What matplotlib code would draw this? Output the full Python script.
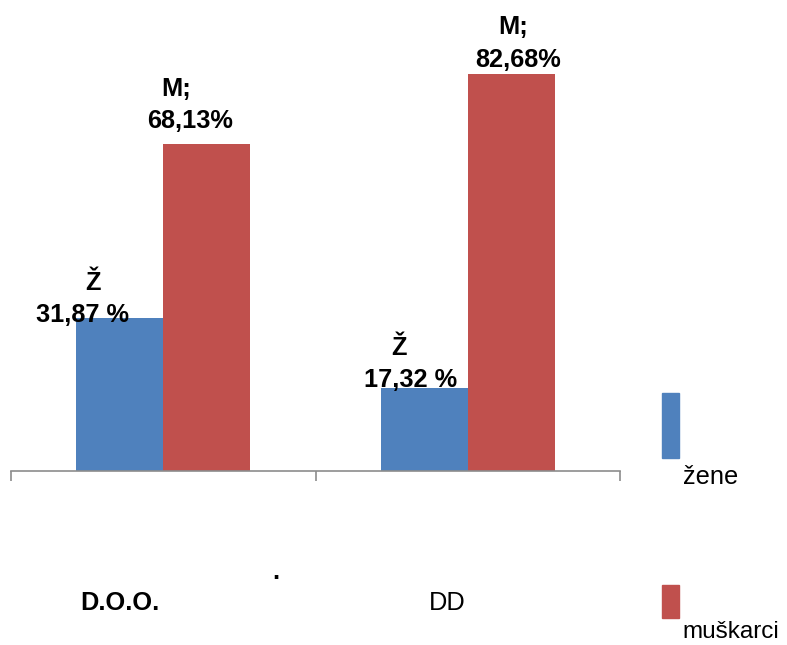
import matplotlib
matplotlib.use("Agg")
import matplotlib.pyplot as plt
from matplotlib.patches import Rectangle

categories = ["D.O.O.", "DD"]
zene = [31.87, 17.32]
muskarci = [68.13, 82.68]
zene_labels = ["31,87 %", "17,32 %"]
muskarci_labels = ["68,13%", "82,68%"]
series_names = ["žene", "muškarci"]

BLUE = "#4F81BD"
RED = "#C0504D"
FONT = "Liberation Sans"

W, H = 787, 645
fig = plt.figure(figsize=(W / 100, H / 100), dpi=100)

def fx(px):
    return px / W

def fy(py):
    return 1 - py / H

# axes: x from 11 to 620 px, baseline y=471, 4.8 px per unit
ymax = 95
ax_h = ymax * 4.8
ax = fig.add_axes([fx(11), fy(471), (620 - 11) / W, ax_h / H])
ax.set_xlim(-0.5, 1.5)
ax.set_ylim(0, ymax)
for s in ["top", "right", "left"]:
    ax.spines[s].set_visible(False)
ax.spines["bottom"].set_color("#8c8c8c")
ax.spines["bottom"].set_linewidth(1.2)
ax.set_yticks([])
ax.set_xticks([-0.5, 0.5, 1.5])
ax.set_xticklabels([])
ax.tick_params(axis="x", length=7, color="#8c8c8c", width=1.2, direction="out")

x = range(len(categories))
bw = 0.286
b1 = ax.bar([i - bw / 2 for i in x], zene, width=bw, color=BLUE, clip_on=False)
b2 = ax.bar([i + bw / 2 for i in x], muskarci, width=bw, color=RED, clip_on=False)

txt = dict(fontfamily=FONT, fontweight="bold", fontsize=18.3, ha="center", va="center",
           textcoords="offset pixels", annotation_clip=False)

# pixel offsets (dx, dy) from bar top-center for each label line
z_off_head = [(-27, 35), (-25, 40)]
z_off_val = [(-37, 3), (-14, 8)]
m_off_head = [(-31, 55), (2, 47)]
m_off_val = [(-17, 23), (7, 14)]

for i, (rb, rr) in enumerate(zip(b1, b2)):
    cx = rb.get_x() + rb.get_width() / 2
    ax.annotate("Ž", (cx, zene[i]), xytext=z_off_head[i], **txt)
    ax.annotate(zene_labels[i], (cx, zene[i]), xytext=z_off_val[i], **txt)
    cx2 = rr.get_x() + rr.get_width() / 2
    ax.annotate("M;", (cx2, muskarci[i]), xytext=m_off_head[i], **txt)
    ax.annotate(muskarci_labels[i], (cx2, muskarci[i]), xytext=m_off_val[i], **txt)

# category labels
fig.text(fx(120), fy(603), categories[0], fontfamily=FONT, fontweight="bold", fontsize=18.3,
         ha="center", va="center")
fig.text(fx(447), fy(603), categories[1], fontfamily=FONT, fontsize=18.3,
         ha="center", va="center")
fig.text(fx(276), fy(572), ".", fontfamily=FONT, fontweight="bold", fontsize=18,
         ha="center", va="center")

# legend
fig.patches.append(Rectangle((fx(662), fy(458)), 17 / W, 65 / H, color=BLUE,
                             transform=fig.transFigure, figure=fig))
fig.text(fx(683), fy(477), series_names[0], fontfamily=FONT, fontsize=18.3, ha="left", va="center")
fig.patches.append(Rectangle((fx(662), fy(618)), 17 / W, 33 / H, color=RED,
                             transform=fig.transFigure, figure=fig))
fig.text(fx(682), fy(632), series_names[1], fontfamily=FONT, fontsize=17.5, ha="left", va="center")

fig.savefig("out.png", dpi=100, facecolor="white")
